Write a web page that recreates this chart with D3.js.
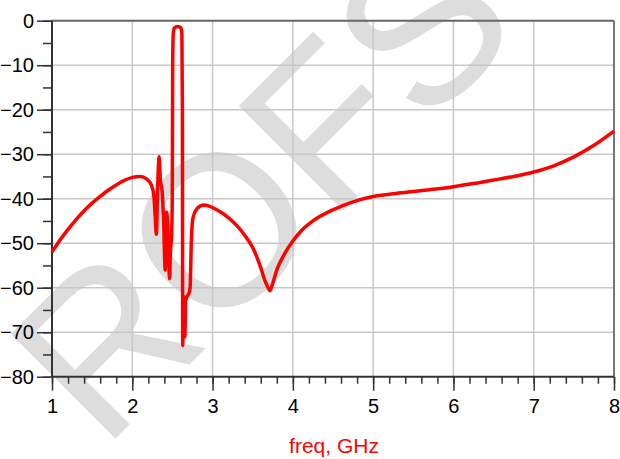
<!DOCTYPE html>
<html><head><meta charset="utf-8">
<script src="https://cdn.jsdelivr.net/npm/d3@7"></script>
<style>html,body{margin:0;padding:0;background:#fff;}svg{display:block;}</style>
</head><body>
<script>
const freq = [1.0,1.1,1.2,1.3,1.4,1.5,1.6,1.7,1.8,1.9,2.0,2.1,2.18,2.24,2.27,2.285,2.30,2.315,2.335,2.35,2.37,2.39,2.41,2.425,2.44,2.465,2.475,2.49,2.498,2.503,2.51,2.525,2.565,2.605,2.618,2.624,2.628,2.64,2.655,2.665,2.68,2.70,2.72,2.735,2.75,2.78,2.85,2.9,3.0,3.1,3.2,3.3,3.4,3.5,3.6,3.65,3.7,3.715,3.75,3.8,3.9,4.0,4.1,4.25,4.5,4.75,5.0,5.25,5.5,5.75,6.0,6.25,6.5,6.75,7.0,7.25,7.5,7.75,8.0];
const s21 = [-52,-49.3,-46.9,-44.7,-42.7,-41.0,-39.5,-38.1,-36.9,-35.9,-35.2,-35.0,-35.6,-37.0,-39.5,-44,-48,-38,-30.6,-36,-38,-45,-56,-43,-45,-58,-52,-48,-40,-10,-3,-1.6,-1.3,-1.6,-3,-20,-73,-62,-71,-63,-62,-61.5,-60,-50,-45,-43,-41.6,-41.4,-42.0,-43.0,-44.3,-46.0,-48.2,-51.0,-55.5,-58.3,-60.3,-60.7,-59,-56,-52.3,-49.5,-47.3,-45.0,-42.5,-40.7,-39.5,-38.9,-38.4,-37.9,-37.3,-36.6,-35.8,-35.0,-34.0,-32.6,-30.6,-28,-24.8];
const xTicks = [1,2,3,4,5,6,7,8];
const yTicks = [0,-10,-20,-30,-40,-50,-60,-70,-80];
const xLabel = "freq, GHz";
const watermark = "ROFS";

const W = 620, H = 459;
const L = 52, R = 614, T = 20.7, B = 376.7;
const svg = d3.select("body").append("svg").attr("width", W).attr("height", H);

const x = d3.scaleLinear().domain([1, 8]).range([L, R]);
const y = d3.scaleLinear().domain([-80, 0]).range([B, T]);
const font = "Liberation Sans, Arial, sans-serif";

// watermark
svg.append("text").attr("transform", "translate(103,451) rotate(-45)")
  .attr("font-family", font).attr("font-size", 215)
  .attr("fill", "#dddddd").text(watermark);

// grid
const grid = svg.append("g").attr("stroke", "#c8c8c8").attr("stroke-width", 1.5);
grid.selectAll("line.gx").data(xTicks.slice(1, -1)).join("line")
  .attr("x1", d => x(d)).attr("x2", d => x(d)).attr("y1", T).attr("y2", B);
grid.selectAll("line.gy").data(yTicks.slice(1, -1)).join("line")
  .attr("y1", d => y(d)).attr("y2", d => y(d)).attr("x1", L).attr("x2", R);

// axes
const xMinor = d3.range(1, 8.001, 0.2).map(v => +v.toFixed(2));
const yMinor = d3.range(-80, 0.001, 5);
const xAx = svg.append("g").attr("transform", `translate(0,${B})`)
  .call(d3.axisBottom(x).tickValues(xMinor).tickSize(7).tickFormat(""));
const xAx2 = svg.append("g").attr("transform", `translate(0,${B})`)
  .call(d3.axisBottom(x).tickValues(xTicks).tickSize(14).tickPadding(7).tickFormat(d3.format("d")));
const yAx = svg.append("g").attr("transform", `translate(${L},0)`)
  .call(d3.axisLeft(y).tickValues(yMinor).tickSize(9).tickFormat(""));
const yAx2 = svg.append("g").attr("transform", `translate(${L},0)`)
  .call(d3.axisLeft(y).tickValues(yTicks).tickSize(15).tickPadding(3).tickFormat(d3.format("d")));
[xAx, xAx2, yAx, yAx2].forEach(g => {
  g.selectAll(".domain").remove();
  g.selectAll("line").attr("stroke", "#333").attr("stroke-width", 1.5);
  g.selectAll("text").attr("font-family", font).attr("font-size", 20).attr("fill", "#000");
});
xAx2.selectAll("text").attr("dy", "0.75em");

// frame
svg.append("line").attr("x1", L).attr("x2", R).attr("y1", T).attr("y2", T).attr("stroke", "#666").attr("stroke-width", 2);
svg.append("line").attr("x1", R).attr("x2", R).attr("y1", T).attr("y2", B).attr("stroke", "#777").attr("stroke-width", 2);
svg.append("line").attr("x1", L).attr("x2", L).attr("y1", T).attr("y2", B).attr("stroke", "#333").attr("stroke-width", 2);
svg.append("line").attr("x1", L).attr("x2", R).attr("y1", B).attr("y2", B).attr("stroke", "#333").attr("stroke-width", 2);

// curve
const pts = freq.map((f, i) => [f, s21[i]]);
svg.append("path").datum(pts)
  .attr("d", d3.line().x(d => x(d[0])).y(d => y(d[1])).curve(d3.curveMonotoneX))
  .attr("fill", "none").attr("stroke", "#ff0000").attr("stroke-width", 3.5).attr("stroke-linejoin", "round");

svg.append("text").attr("x", 334).attr("y", 453).attr("text-anchor", "middle")
  .attr("font-family", font).attr("font-size", 21).attr("fill", "#ff0000").text(xLabel);
</script>
</body></html>
